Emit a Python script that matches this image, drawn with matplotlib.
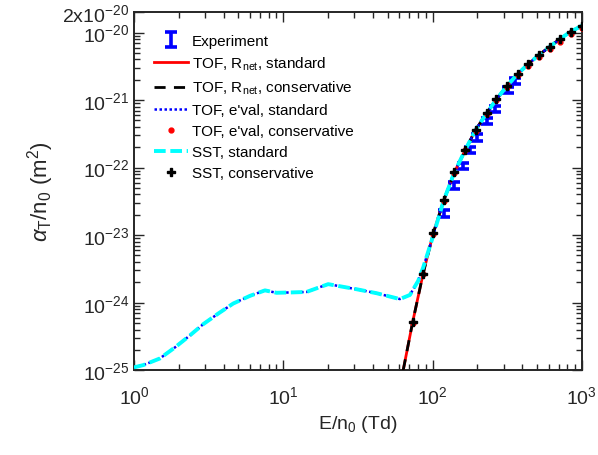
import matplotlib
matplotlib.use("Agg")
import matplotlib.pyplot as plt
from matplotlib.ticker import LogLocator, FixedLocator, FixedFormatter, NullFormatter

plt.rcParams["font.family"] = ["Liberation Sans", "DejaVu Sans"]
plt.rcParams["mathtext.fontset"] = "custom"
plt.rcParams["mathtext.rm"] = "Liberation Sans"
plt.rcParams["mathtext.it"] = "Liberation Sans:italic"
plt.rcParams["mathtext.bf"] = "Liberation Sans:bold"

# Experiment (blue error bars)
exp_x = [120, 140, 159, 178, 199, 230, 263, 318, 356]
exp_y = [2.1e-23, 5.4e-23, 1.06e-22, 1.84e-22, 2.8e-22, 4.9e-22, 7.4e-22, 1.4e-21, 1.93e-21]
exp_err_lo = [0.25e-23, 0.65e-23, 1.2e-23, 2.1e-23, 3.1e-23, 5.3e-23, 7.8e-23, 1.45e-22, 1.9e-22]
exp_err_hi = [0.25e-23, 0.65e-23, 1.2e-23, 2.1e-23, 3.1e-23, 5.3e-23, 7.8e-23, 1.45e-22, 1.9e-22]

# Steep branch: TOF R_net (standard/conservative)
rnet_x = [63.6, 73.5, 86.5, 101, 119, 140, 166, 194, 230, 268, 316, 371, 437, 515, 611, 712, 840, 1000]
rnet_y = [1.0e-25, 5.1e-25, 2.7e-24, 1.06e-23, 3.3e-23, 8.5e-23, 1.84e-22, 3.6e-22, 6.35e-22,
          1.03e-21, 1.63e-21, 2.43e-21, 3.41e-21, 4.64e-21, 6.2e-21, 8.0e-21, 1.03e-20, 1.26e-20]

# TOF e'val conservative (red dots)
evc_x = [73.5, 86.5, 101, 119, 140, 166, 194, 230, 268, 316, 371, 437, 515, 611, 712, 840, 1000]
evc_y = [5.05e-25, 2.68e-24, 1.05e-23, 3.25e-23, 8.3e-23, 1.8e-22, 3.5e-22, 6.2e-22,
         1.0e-21, 1.57e-21, 2.32e-21, 3.22e-21, 4.35e-21, 5.75e-21, 7.35e-21, 9.4e-21, 1.15e-20]

# SST conservative (black markers)
sstc_x = [73.5, 86.5, 101, 119, 140, 166, 194, 230, 268, 316, 371, 437, 515, 611, 712, 840, 1000]
sstc_y = [5.1e-25, 2.7e-24, 1.06e-23, 3.3e-23, 8.5e-23, 1.84e-22, 3.6e-22, 6.35e-22,
          1.03e-21, 1.63e-21, 2.43e-21, 3.41e-21, 4.64e-21, 6.2e-21, 8.0e-21, 1.03e-20, 1.26e-20]

# Standard branch: TOF e'val standard and SST standard
std_x = [1.0, 1.155, 1.49, 1.88, 2.35, 2.91, 3.67, 4.62, 5.98, 7.54, 9.02, 11.7, 14.3, 20.0,
         31.0, 42.2, 60.4, 70.5, 80.1, 86.5, 98.5, 119, 140, 166, 194, 230, 268, 316, 371,
         437, 515, 611, 712, 840, 1000]
std_y = [1.1e-25, 1.19e-25, 1.49e-25, 2.17e-25, 3.22e-25, 4.8e-25, 6.9e-25, 9.7e-25, 1.26e-24,
         1.52e-24, 1.4e-24, 1.42e-24, 1.44e-24, 1.88e-24, 1.58e-24, 1.38e-24, 1.13e-24, 1.3e-24,
         2.1e-24, 3.3e-24, 8.2e-24, 3.3e-23, 8.5e-23, 1.84e-22, 3.6e-22, 6.35e-22, 1.03e-21,
         1.63e-21, 2.43e-21, 3.41e-21, 4.64e-21, 6.2e-21, 8.0e-21, 1.03e-20, 1.26e-20]

ytick_vals = [1e-25, 1e-24, 1e-23, 1e-22, 1e-21, 1e-20, 2e-20]
ytick_text = [r"$\mathregular{10^{-25}}$", r"$\mathregular{10^{-24}}$", r"$\mathregular{10^{-23}}$",
              r"$\mathregular{10^{-22}}$", r"$\mathregular{10^{-21}}$", r"$\mathregular{10^{-20}}$",
              r"$\mathregular{2x10^{-20}}$"]
xtick_vals = [1, 10, 100, 1000]
xtick_text = [r"$\mathregular{10^{0}}$", r"$\mathregular{10^{1}}$", r"$\mathregular{10^{2}}$",
              r"$\mathregular{10^{3}}$"]

fig = plt.figure(figsize=(5.98, 4.56), dpi=100)
ax = fig.add_axes([0.224, 0.186, 0.749, 0.785])

ax.errorbar(exp_x, exp_y, yerr=[exp_err_lo, exp_err_hi], fmt="none", ecolor="#0000ff",
            elinewidth=2.6, capsize=4, capthick=2.6, label="Experiment", zorder=2)
ax.plot(rnet_x, rnet_y, color="#ff0000", lw=2.0, label=r"TOF, R$_{\mathregular{net}}$, standard", zorder=3)
ax.plot(rnet_x, rnet_y, color="black", lw=2.0, ls=(0, (4, 3)),
        label=r"TOF, R$_{\mathregular{net}}$, conservative", zorder=4)
ax.plot(std_x, std_y, color="#0000ff", lw=1.8, ls=(0, (1, 1)), label="TOF, e'val, standard", zorder=5)
ax.plot(std_x, std_y, color="#00ffff", lw=2.8, ls=(0, (3, 1.2)), label="SST, standard", zorder=6)
ax.plot(evc_x, evc_y, ls="none", marker="o", ms=3.5, color="#ff0000",
        label="TOF, e'val, conservative", zorder=6)
ax.plot(sstc_x, sstc_y, ls="none", marker="P", ms=5.5, color="black",
        label="SST, conservative", zorder=7)

ax.set_xscale("log")
ax.set_yscale("log")
ax.set_xlim(1, 1000)
ax.set_ylim(1e-25, 2e-20)

ax.xaxis.set_major_locator(FixedLocator(xtick_vals))
ax.xaxis.set_major_formatter(FixedFormatter(xtick_text))
ax.xaxis.set_minor_locator(LogLocator(base=10, subs=range(2, 10), numticks=20))
ax.xaxis.set_minor_formatter(NullFormatter())
ax.yaxis.set_major_locator(FixedLocator(ytick_vals))
ax.yaxis.set_major_formatter(FixedFormatter(ytick_text))
ax.yaxis.set_minor_locator(LogLocator(base=10, subs=range(2, 10), numticks=20))
ax.yaxis.set_minor_formatter(NullFormatter())

ax.tick_params(which="both", direction="in", top=True, right=True, colors="#262626",
               labelcolor="#262626", labelsize=14, width=1.0)
ax.tick_params(which="major", length=7)
ax.tick_params(which="minor", length=4)
ax.tick_params(axis="x", pad=11)
for s in ax.spines.values():
    s.set_linewidth(1.4)
    s.set_color("#262626")

ax.set_xlabel(r"E/n$_{\mathregular{0}}$ (Td)", fontsize=14, color="#262626")
ax.set_ylabel(r"$\alpha_{\mathregular{T}}$/n$_{\mathregular{0}}$ (m$^{\mathregular{2}}$)", fontsize=16,
              color="#262626")

handles, labels = ax.get_legend_handles_labels()
order = ["Experiment", r"TOF, R$_{\mathregular{net}}$, standard", r"TOF, R$_{\mathregular{net}}$, conservative",
         "TOF, e'val, standard", "TOF, e'val, conservative", "SST, standard", "SST, conservative"]
hmap = dict(zip(labels, handles))
ax.legend([hmap[k] for k in order], order, loc="upper left", bbox_to_anchor=(0.025, 0.965),
          frameon=False, fontsize=11, handlelength=2.2, handletextpad=0.25, labelspacing=0.45,
          borderaxespad=0.2)

fig.savefig("out.png", dpi=100)
